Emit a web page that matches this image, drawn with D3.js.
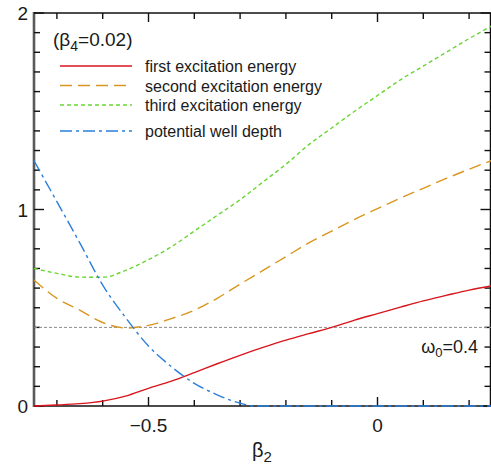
<!DOCTYPE html>
<html lang="en">
<head>
<meta charset="UTF-8">
<title>Excitation energies vs beta2</title>
<script src="https://d3js.org/d3.v7.min.js"></script>
<style>
    body { margin: 0; background: #fff; }
    text { font-family: "Liberation Sans", Arial, sans-serif; fill: #1a1a1a; }
    .curve { fill: none; }
</style>
</head>
<body>
<svg width="491" height="470"></svg>
<script>
// values
const beta2 = [-0.75, -0.70, -0.65, -0.60, -0.55, -0.50, -0.45, -0.40, -0.35, -0.30, -0.25,
               -0.20, -0.15, -0.10, -0.05, 0.00, 0.05, 0.10, 0.15, 0.20, 0.25];
const firstExc  = [0.000, 0.005, 0.012, 0.025, 0.050, 0.090, 0.127, 0.170, 0.215, 0.258, 0.298,
                   0.335, 0.368, 0.400, 0.437, 0.470, 0.503, 0.535, 0.563, 0.590, 0.612];
const secondExc = [0.641, 0.548, 0.488, 0.425, 0.397, 0.410, 0.445, 0.487, 0.548, 0.620, 0.690,
                   0.760, 0.830, 0.890, 0.950, 1.005, 1.058, 1.108, 1.158, 1.205, 1.250];
const thirdExc  = [0.700, 0.675, 0.656, 0.655, 0.690, 0.745, 0.810, 0.890, 0.970, 1.050, 1.140,
                   1.230, 1.330, 1.415, 1.500, 1.580, 1.660, 1.730, 1.800, 1.870, 1.935];
const wellBeta  = [-0.75, -0.70, -0.65, -0.60, -0.55, -0.50, -0.45, -0.40, -0.35, -0.30, -0.27, -0.25, 0.00, 0.25];
const wellDepth = [1.248, 1.040, 0.830, 0.615, 0.450, 0.305, 0.200, 0.115, 0.057, 0.014, 0.000, 0.000, 0.000, 0.000];
const omega0 = 0.4;
const xMinor = [-0.7, -0.6, -0.4, -0.3, -0.2, -0.1, 0.1, 0.2];
const xMajor = [-0.5, 0];
const yMinor = [0.1, 0.2, 0.3, 0.4, 0.5, 0.6, 0.7, 0.8, 0.9, 1.1, 1.2, 1.3, 1.4, 1.5, 1.6, 1.7, 1.8, 1.9];
const yMajor = [0, 1, 2];

const legendItems = [
    { label: "first excitation energy",  color: "#d8141c", dash: null },
    { label: "second excitation energy", color: "#d9961e", dash: "12,6" },
    { label: "third excitation energy",  color: "#68d630", dash: "4,3" },
    { label: "potential well depth",     color: "#2a7fdc", dash: "12,4,3,4" }
];

const svg = d3.select("svg");
const x = d3.scaleLinear().domain([-0.75, 0.25]).range([34, 492]);
const y = d3.scaleLinear().domain([0, 2]).range([406, 13]);
const [x0, x1] = x.range();
const [y0, y1] = y.range();
const xRight = 490.5;

// left axis line, then inward tick marks on all four sides
svg.append("line").attr("x1", x0).attr("x2", x0).attr("y1", y1 - 1).attr("y2", y0 + 1)
    .attr("stroke", "#5a5a5a").attr("stroke-width", 2.6);

const tickG = svg.append("g");
function xTicks(values, len) {
    [[y0, -len], [y1, len]].forEach(([base, dir]) => {
        tickG.selectAll(null).data(values).join("line")
            .attr("x1", d => x(d)).attr("x2", d => x(d))
            .attr("y1", base).attr("y2", base + dir)
            .attr("stroke", "#111").attr("stroke-width", 1.4);
    });
}
function yTicks(values, len) {
    [[x0, len], [xRight, -len]].forEach(([base, dir]) => {
        tickG.selectAll(null).data(values).join("line")
            .attr("y1", d => y(d)).attr("y2", d => y(d))
            .attr("x1", base).attr("x2", base + dir)
            .attr("stroke", "#111").attr("stroke-width", 1.4);
    });
}
xTicks(xMinor, 6);
xTicks(xMajor, 9);
yTicks(yMinor, 6);
yTicks(yMajor, 10);

// rest of the frame
svg.append("line").attr("x1", x0).attr("x2", x1).attr("y1", y1).attr("y2", y1)
    .attr("stroke", "#111").attr("stroke-width", 1.5);
svg.append("line").attr("x1", x0).attr("x2", x1).attr("y1", y0).attr("y2", y0)
    .attr("stroke", "#111").attr("stroke-width", 1.6);
svg.append("line").attr("x1", xRight).attr("x2", xRight).attr("y1", y1).attr("y2", y0)
    .attr("stroke", "#111").attr("stroke-width", 1.5);

// omega_0 reference line
svg.append("line")
    .attr("x1", x0).attr("x2", x1).attr("y1", y(omega0)).attr("y2", y(omega0))
    .attr("stroke", "#8c8c8c").attr("stroke-width", 1).attr("stroke-dasharray", "3,2");

// tick labels
svg.selectAll(null).data(yMajor).join("text")
    .attr("x", 28).attr("y", d => y(d) + 7)
    .attr("text-anchor", "end").style("font-size", "19px")
    .text(d => d);
svg.selectAll(null).data(xMajor).join("text")
    .attr("x", d => x(d)).attr("y", 432)
    .attr("text-anchor", "middle").style("font-size", "19px")
    .text(d => d === 0 ? "0" : d3.format(".1f")(d));

// axis title beta_2
const xt = svg.append("text").attr("x", 252).attr("y", 457).style("font-size", "20px");
xt.append("tspan").text("β");
xt.append("tspan").attr("dy", 5).style("font-size", "15px").text("2");

const om = svg.append("text").attr("x", 478).attr("y", 353)
    .attr("text-anchor", "end").style("font-size", "18px");
om.append("tspan").text("ω");
om.append("tspan").attr("dy", 4).style("font-size", "13px").text("0");
om.append("tspan").attr("dy", -4).text("=" + omega0);

// curves (all data sits inside the domain, so no clipping needed)
const lineGen = d3.line().x(d => x(d[0])).y(d => y(d[1])).curve(d3.curveMonotoneX);
const series = [
    { xs: beta2, ys: firstExc, item: legendItems[0] },
    { xs: beta2, ys: secondExc, item: legendItems[1] },
    { xs: beta2, ys: thirdExc, item: legendItems[2] },
    { xs: wellBeta, ys: wellDepth, item: legendItems[3] }
];
const curves = svg.append("g");
series.forEach(s => {
    curves.append("path")
        .datum(s.xs.map((b, i) => [b, s.ys[i]]))
        .attr("class", "curve")
        .attr("d", lineGen)
        .attr("stroke", s.item.color)
        .attr("stroke-width", 1.4)
        .attr("stroke-dasharray", s.item.dash);
});

// legend
const lt = svg.append("text").attr("x", 53).attr("y", 46).style("font-size", "19px");
lt.append("tspan").text("(β");
lt.append("tspan").attr("dy", 5).style("font-size", "14px").text("4");
lt.append("tspan").attr("dy", -5).text("=0.02)");

const legendY = [66, 85.5, 105, 131];
const legend = svg.append("g");
legendItems.forEach((d, i) => {
    legend.append("line")
        .attr("x1", 60).attr("x2", 132).attr("y1", legendY[i]).attr("y2", legendY[i])
        .attr("stroke", d.color).attr("stroke-width", 1.4)
        .attr("stroke-dasharray", d.dash);
    legend.append("text")
        .attr("x", 145).attr("y", legendY[i] + 6)
        .style("font-size", "16px")
        .text(d.label);
});
</script>
</body>
</html>
